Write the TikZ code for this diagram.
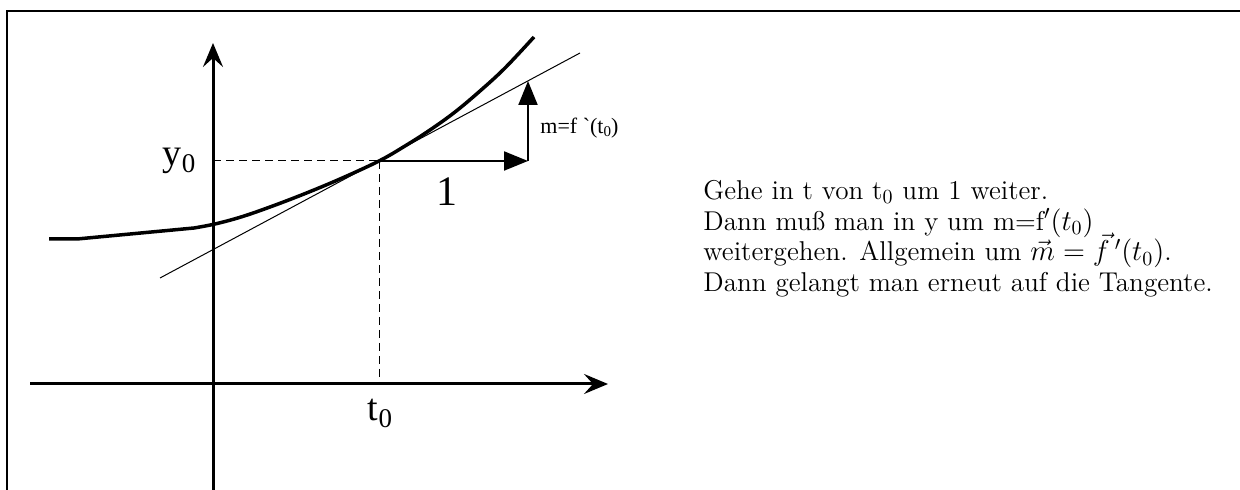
\documentclass[tikz,border=0pt]{standalone}
\usepackage{fontspec}
\newfontfamily\tms{Liberation Serif}
\usetikzlibrary{arrows.meta}
\begin{document}
\lineskiplimit=-100pt
\begin{tikzpicture}[x=0.5pt,y=-0.5pt,
  frameline/.style={line width=1.25pt},
  axis/.style={line width=1.5pt,-{Stealth[length=12pt,width=10pt,inset=4.5pt]}},
  curve/.style={line width=1.75pt,line join=round},
  tang/.style={line width=0.5pt},
  guide/.style={line width=0.5pt,dash pattern=on 4pt off 2.5pt},
  steparrow/.style={line width=1pt,-{Triangle[length=12pt,width=9.5pt]}},
  biglabel/.style={font=\tms\fontsize{19}{19}\selectfont,inner sep=0pt},
  smalllabel/.style={font=\tms\fontsize{11}{11}\selectfont,inner sep=0pt,anchor=west},
  textblock/.style={font=\fontsize{13.6}{15.3}\selectfont,inner sep=0pt,anchor=north west,align=left}
]
\useasboundingbox (0,0) rectangle (1240,490);
% frame (open at right and bottom)
\coordinate (F1) at (7,492);
\coordinate (F2) at (7,11);
\coordinate (F3) at (1242,11);
\draw[frameline] (F1) -- (F2) -- (F3);
% key points
\coordinate (Ybot) at (213,492);
\coordinate (Ytop) at (213,43);
\coordinate (Xl) at (30,384);
\coordinate (Xr) at (608,384);
\coordinate (P) at (379,161);
\coordinate (Py) at (213,161);
\coordinate (Pt) at (379,384);
\coordinate (Q) at (528,161);
\coordinate (R) at (528,81);
\coordinate (T1) at (160,278);
\coordinate (T2) at (580,53);
% axes
\draw[axis] (Ybot) -- (Ytop);
\draw[axis] (Xl) -- (Xr);
% guides
\draw[guide] (Py) -- (P);
\draw[guide] (P) -- (Pt);
% tangent
\draw[tang] (T1) -- (T2);
% curve
\draw[curve] (49,239) -- (77,239) -- (194,228) -- plot[smooth,tension=0.6] coordinates {(194,228) (215,224) (241,217) (270,207) (304,194) (340,179) (379,161) (405,146) (430,130) (455,112) (480,91) (505,68) (534,37)};
% step arrows
\draw[steparrow] (P) -- (Q);
\draw[steparrow] (Q) -- (R);
% labels
\node[biglabel] (ylab) at (179,161) {y\raisebox{-3.5pt}{\fontsize{13.5}{13.5}\selectfont 0}};
\node[biglabel] (tlab) at (380,413) {t\raisebox{-3.5pt}{\fontsize{13.5}{13.5}\selectfont 0}};
\node[biglabel,font=\tms\fontsize{21}{21}\selectfont] (onelab) at (447,192) {1};
\node[smalllabel] (mlab) at (540,128) {m=f \symbol{96}(t\raisebox{-1.5pt}{\fontsize{7.5}{7.5}\selectfont 0})};
\node[textblock] (txt) at (703,180) {Gehe in t von t$_0$ um 1 weiter.\\
Dann muß man in y um m=f$'(t_0)$\\
weitergehen. Allgemein um $\vec{m} = \vec{f}\,'(t_0)$.\\
Dann gelangt man erneut auf die Tangente.};
\end{tikzpicture}
\end{document}
